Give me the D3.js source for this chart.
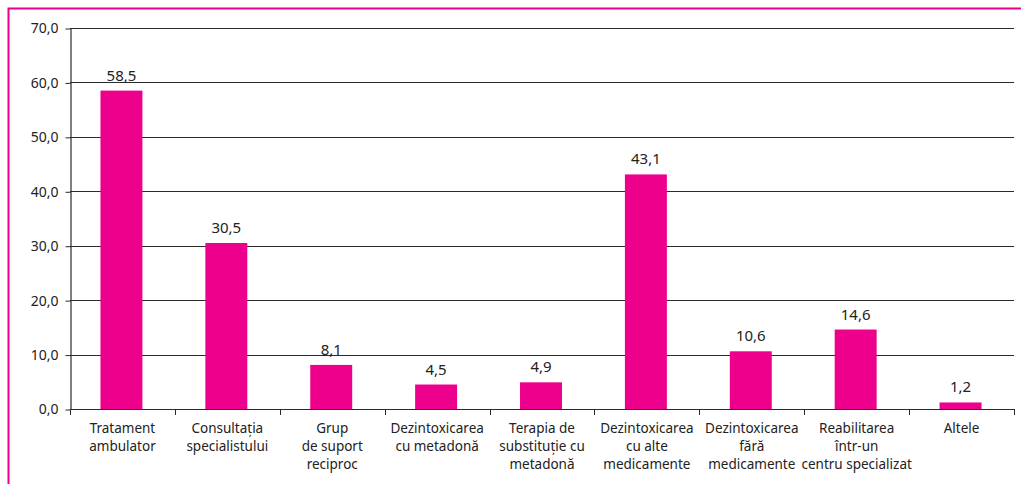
<!DOCTYPE html>
<html>
<head>
<meta charset="utf-8">
<script src="https://cdn.jsdelivr.net/npm/d3@7"></script>
<style>
  body { margin: 0; background: #fff; }
  text { font-family: "Noto Sans", sans-serif; fill: #222; }
</style>
</head>
<body>
<svg id="chart" width="1021" height="484"></svg>
<script>
// categories (split in lines as in the picture)
var categories = [
    ["Tratament", "ambulator"],
    ["Consultația", "specialistului"],
    ["Grup", "de suport", "reciproc"],
    ["Dezintoxicarea", "cu metadonă"],
    ["Terapia de", "substituție cu", "metadonă"],
    ["Dezintoxicarea", "cu alte", "medicamente"],
    ["Dezintoxicarea", "fără", "medicamente"],
    ["Reabilitarea", "într-un", "centru specializat"],
    ["Altele"]
]
var values = [58.5, 30.5, 8.1, 4.5, 4.9, 43.1, 10.6, 14.6, 1.2]
var yTicks = [0, 10, 20, 30, 40, 50, 60, 70]

var pink = "#ec008c"
var fmt = function(v) { return v.toFixed(1).replace(".", ",") }

var svg = d3.select("#chart")

// pink frame (only left and top are in view)
svg.append("path")
    .attr("d", "M8.5,484 L8.5,8.5 L1021,8.5")
    .style("fill", "none")
    .style("stroke", pink)
    .style("stroke-width", "2px")

var plotLeft = 70, plotRight = 1014, plotTop = 28, plotBottom = 409

var x = d3.scaleBand()
    .domain(d3.range(categories.length))
    .range([plotLeft, plotRight])
    .paddingInner(0.6)
    .paddingOuter(0.3)

var xb = d3.scaleBand()
    .domain(d3.range(categories.length))
    .range([plotLeft, plotRight])

var y = d3.scaleLinear()
    .domain([0, 70])
    .range([plotBottom, plotTop])

// gridlines
svg.append("g")
    .selectAll("line.grid")
    .data(yTicks)
    .join("line")
    .classed("grid", true)
    .attr("x1", plotLeft)
    .attr("x2", plotRight)
    .attr("y1", function(d) { return Math.round(y(d)) + 0.5 })
    .attr("y2", function(d) { return Math.round(y(d)) + 0.5 })
    .style("stroke", "#2a2a2a")
    .style("stroke-width", "1.2px")

// y axis
var yAxis = svg.append("g")
    .attr("transform", "translate(" + (plotLeft + 0.5) + ",0.5)")
    .call(d3.axisLeft(y).tickValues(yTicks).tickFormat(fmt).tickSize(5).tickSizeOuter(0))
yAxis.select(".domain").style("stroke", "#2a2a2a").style("stroke-width", "1.2px")
yAxis.selectAll(".tick line").style("stroke", "#2a2a2a")
yAxis.selectAll(".tick text")
    .attr("x", -12)
    .style("font-size", "14px")
    .style("font-family", "Noto Sans, sans-serif")
    .style("fill", "#222")

// x axis line + ticks at band boundaries
svg.append("line")
    .attr("x1", plotLeft).attr("x2", plotRight)
    .attr("y1", Math.round(y(0)) + 0.5).attr("y2", Math.round(y(0)) + 0.5)
    .style("stroke", "#2a2a2a")
    .style("stroke-width", "1.2px")
svg.append("g")
    .selectAll("line.xtick")
    .data(d3.range(categories.length + 1))
    .join("line")
    .classed("xtick", true)
    .attr("x1", function(d) { return Math.round(plotLeft + d * xb.step()) + 0.5 })
    .attr("x2", function(d) { return Math.round(plotLeft + d * xb.step()) + 0.5 })
    .attr("y1", Math.round(y(0)))
    .attr("y2", Math.round(y(0)) + 6)
    .style("stroke", "#2a2a2a")

// bars
svg.append("g")
    .selectAll("rect.bar")
    .data(values)
    .join("rect")
    .classed("bar", true)
    .attr("x", function(d, i) { return x(i) - 1 })
    .attr("width", x.bandwidth())
    .attr("y", function(d) { return y(d) })
    .attr("height", function(d) { return y(0) - y(d) })
    .style("fill", pink)

// value labels
svg.append("g")
    .selectAll("text.value")
    .data(values)
    .join("text")
    .classed("value", true)
    .attr("x", function(d, i) { return x(i) - 1 + x.bandwidth() / 2 })
    .attr("y", function(d) { return y(d) - 10 })
    .attr("text-anchor", "middle")
    .style("font-size", "15px")
    .text(fmt)

// category labels
svg.append("g")
    .selectAll("text.cat")
    .data(categories)
    .join("text")
    .classed("cat", true)
    .attr("text-anchor", "middle")
    .attr("transform", function(d, i) { return "translate(" + (xb(i) + xb.bandwidth() / 2) + ",433)" })
    .style("font-size", "13.5px")
    .selectAll("tspan")
    .data(function(d) { return d })
    .join("tspan")
    .attr("x", 0)
    .attr("y", function(d, i) { return i * 18 })
    .text(function(d) { return d })
</script>
</body>
</html>
